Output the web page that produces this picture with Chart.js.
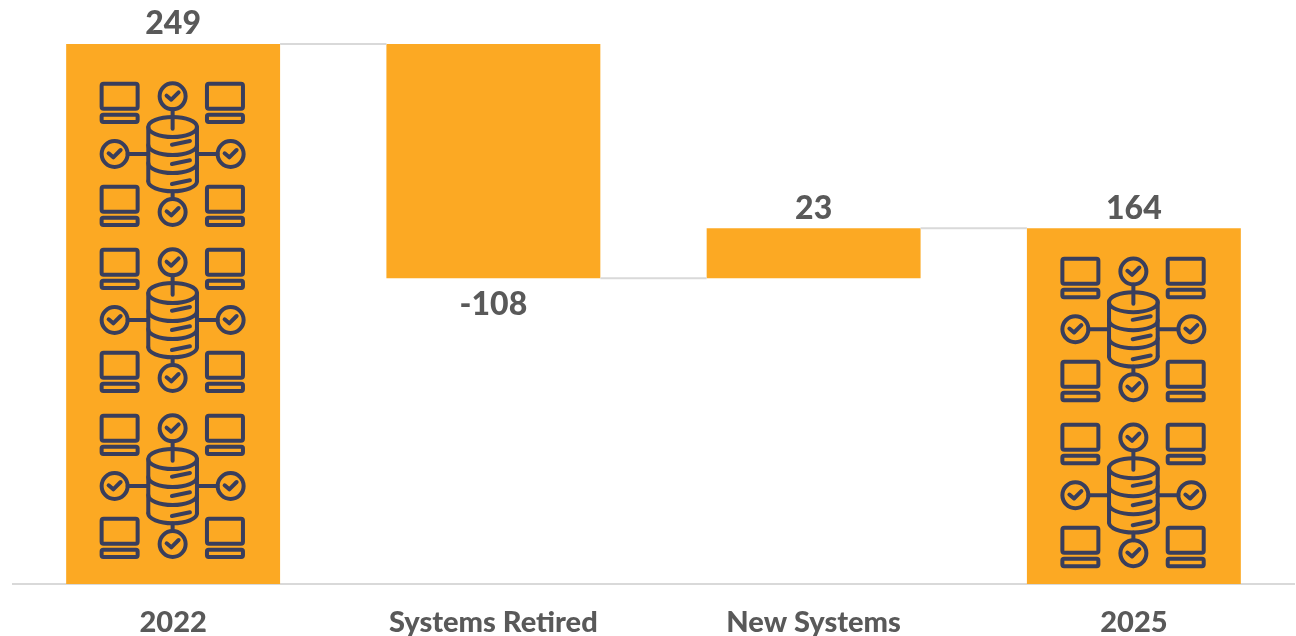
<!DOCTYPE html>
<html lang="en">

<head>
    <title>Systems 2022 to 2025</title>
    <meta charset="utf-8" />
    <style>
        html, body { margin: 0; padding: 0; background: #ffffff; overflow: hidden; }
        #wrap { width: 1296px; height: 636px; }
    </style>
    <script src="https://cdn.jsdelivr.net/npm/chart.js"></script>
</head>

<body>
    <div id="wrap"><canvas id="myChart" width="1296" height="636"></canvas></div>
    <script>
        // Data
        var categories = ['2022', 'Systems Retired', 'New Systems', '2025'];
        var values = [249, -108, 23, 164];
        var isTotal = [true, false, false, true];
        var iconCounts = [3, 0, 0, 2];

        var BAR_COLOR = '#FCA923';
        var ICON_COLOR = '#393E5C';
        var TEXT_COLOR = '#595959';
        var LINE_COLOR = '#D9D9D9';
        var FONT = 'Lato, "Open Sans", sans-serif';

        // Waterfall: each bar floats from the running total
        var running = 0;
        var ranges = values.map(function (v, i) {
            if (isTotal[i]) {
                running = v;
                return [0, v];
            }
            var start = running;
            running += v;
            return [Math.min(start, running), Math.max(start, running)];
        });
        // level the connector leaves each bar at
        var levels = [];
        running = 0;
        values.forEach(function (v, i) {
            running = isTotal[i] ? v : running + v;
            levels.push(running);
        });

        function laptop(c, x, y) {
            c.beginPath();
            c.roundRect(x, y, 108, 75, 6);
            c.stroke();
            c.beginPath();
            c.roundRect(x, y + 93, 108, 22, 5);
            c.stroke();
        }

        function badge(c, x, y) {
            c.beginPath();
            c.arc(x, y, 39, 0, Math.PI * 2);
            c.stroke();
            c.beginPath();
            c.moveTo(x - 18, y - 2);
            c.lineTo(x - 4, y + 10);
            c.lineTo(x + 18, y - 12);
            c.stroke();
        }

        // Database with four laptops and four check badges, about 146px across
        function drawIcon(c, cx, cy) {
            c.save();
            c.translate(cx, cy);
            c.scale(1 / 3, 1 / 3);
            c.strokeStyle = ICON_COLOR;
            c.lineWidth = 12;
            c.lineCap = 'round';
            c.lineJoin = 'round';

            laptop(c, -213, -211);
            laptop(c, 103, -211);
            laptop(c, -213, 98);
            laptop(c, 103, 98);

            badge(c, 0, -173);
            badge(c, -174, 0);
            badge(c, 174, 0);
            badge(c, 0, 174);

            c.beginPath();
            c.moveTo(0, -134);
            c.lineTo(0, -76);
            c.moveTo(-135, 0);
            c.lineTo(-73, 0);
            c.moveTo(73, 0);
            c.lineTo(135, 0);
            c.moveTo(0, 112);
            c.lineTo(0, 135);
            c.stroke();

            // cylinder
            c.beginPath();
            c.ellipse(0, -81, 73, 30, 0, 0, Math.PI * 2);
            c.stroke();
            c.beginPath();
            c.moveTo(-73, -81);
            c.lineTo(-73, 82);
            c.moveTo(73, -81);
            c.lineTo(73, 82);
            c.stroke();
            [-27, 27, 82].forEach(function (y) {
                c.beginPath();
                c.ellipse(0, y, 73, 30, 0, 0, Math.PI);
                c.stroke();
            });
            [-28, 30, 90].forEach(function (y) {
                c.beginPath();
                c.moveTo(-2, y);
                c.lineTo(52, y - 11);
                c.stroke();
            });
            c.restore();
        }

        var waterfallExtras = {
            id: 'waterfallExtras',
            afterDatasetsDraw: function (chart) {
                var c = chart.ctx;
                var yScale = chart.scales.y;
                var bars = chart.getDatasetMeta(0).data;

                // connectors between neighbouring bars
                c.save();
                c.strokeStyle = LINE_COLOR;
                c.lineWidth = 2;
                for (var i = 0; i < bars.length - 1; i++) {
                    var y = yScale.getPixelForValue(levels[i]);
                    c.beginPath();
                    c.moveTo(bars[i].x + bars[i].width / 2, y);
                    c.lineTo(bars[i + 1].x - bars[i + 1].width / 2, y);
                    c.stroke();
                }
                c.restore();

                // icons stacked inside the total bars
                bars.forEach(function (bar, i) {
                    var n = iconCounts[i];
                    if (!n) return;
                    var top = yScale.getPixelForValue(ranges[i][1]);
                    var bottom = yScale.getPixelForValue(ranges[i][0]);
                    var step = 166;
                    var first = (top + bottom) / 2 - step * (n - 1) / 2 + 6;
                    for (var k = 0; k < n; k++) {
                        drawIcon(c, bar.x - 0.5, first + k * step);
                    }
                });

                // value labels, below the bar for decreases
                c.save();
                c.fillStyle = TEXT_COLOR;
                c.font = '900 32px ' + FONT;
                c.textAlign = 'center';
                c.textBaseline = 'middle';
                bars.forEach(function (bar, i) {
                    var y = values[i] < 0
                        ? yScale.getPixelForValue(ranges[i][0]) + 26
                        : yScale.getPixelForValue(ranges[i][1]) - 20;
                    c.fillText(String(values[i]), bar.x, y);
                });
                c.restore();
            }
        };

        const ctx = document.getElementById('myChart').getContext('2d');
        new Chart(ctx, {
            type: 'bar',
            data: {
                labels: categories,
                datasets: [{
                    data: ranges,
                    backgroundColor: BAR_COLOR,
                    borderWidth: 0,
                    categoryPercentage: 1,
                    barPercentage: 0.668
                }]
            },
            options: {
                responsive: false,
                animation: false,
                layout: { padding: { left: 13, right: 2, top: 44, bottom: 0 } },
                plugins: {
                    legend: { display: false },
                    tooltip: { enabled: false }
                },
                scales: {
                    x: {
                        grid: { display: false, drawTicks: false },
                        border: { color: LINE_COLOR, width: 2 },
                        ticks: {
                            color: TEXT_COLOR,
                            font: { family: FONT, size: 29, weight: '900' },
                            padding: 21,
                            maxRotation: 0,
                            autoSkip: false
                        },
                        afterFit: function (scale) {
                            scale.height = 52;
                        }
                    },
                    y: {
                        display: false,
                        min: 0,
                        max: 249
                    }
                }
            },
            plugins: [waterfallExtras]
        });
    </script>
</body>

</html>
